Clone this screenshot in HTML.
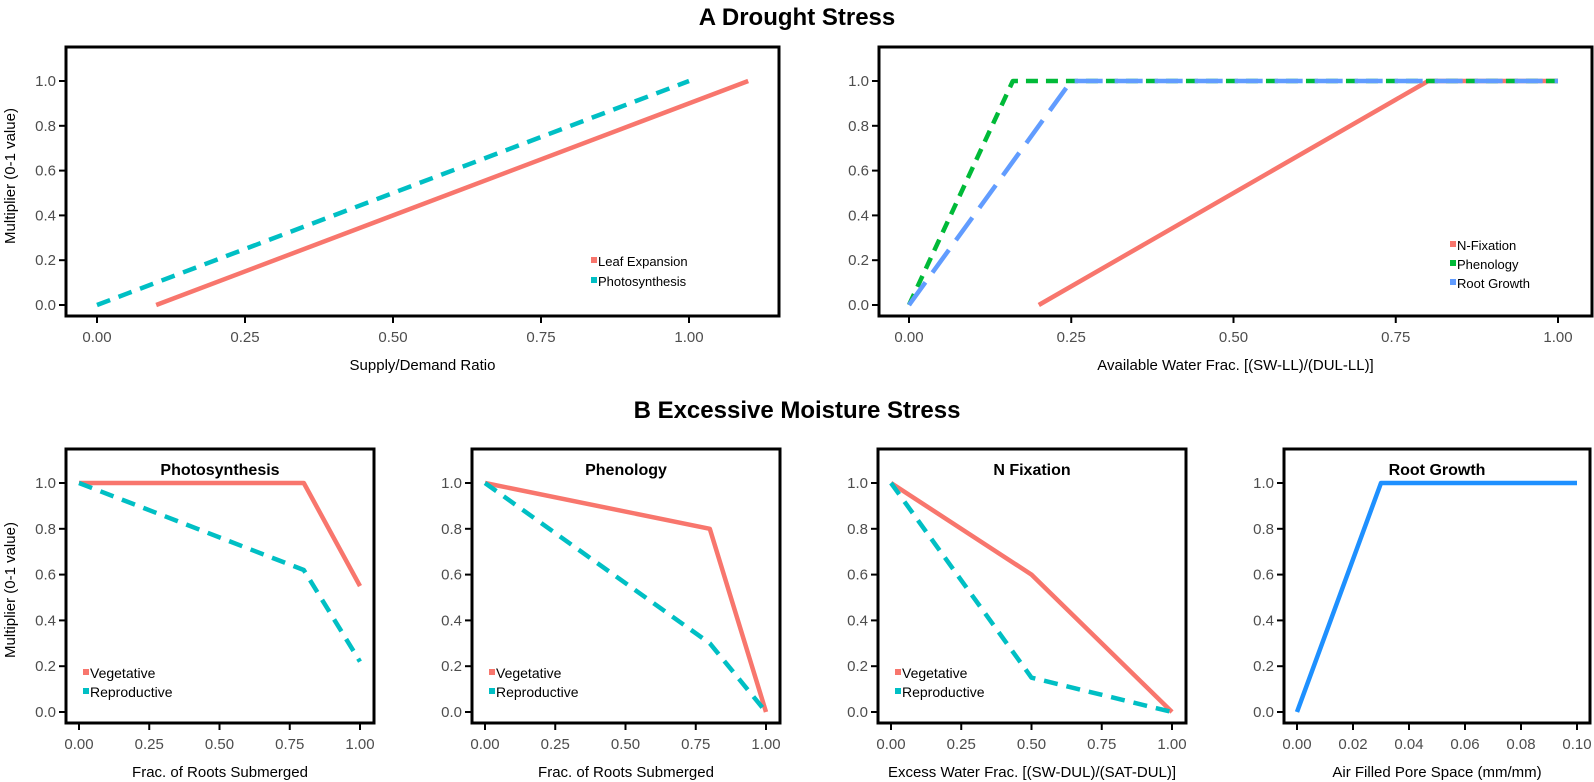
<!DOCTYPE html>
<html><head><meta charset="utf-8"><style>
html,body{margin:0;padding:0;background:#fff;}
svg{display:block;font-family:"Liberation Sans",Arial,sans-serif;}
</style></head><body>
<svg id="s" width="1594" height="782" viewBox="0 0 1594 782" xmlns="http://www.w3.org/2000/svg">
<text x="797" y="25" text-anchor="middle" font-size="24" font-weight="bold">A  Drought Stress</text>
<text x="797" y="418" text-anchor="middle" font-size="24" font-weight="bold">B  Excessive Moisture Stress</text>
<text transform="translate(15,176) rotate(-90)" text-anchor="middle" font-size="15">Multiplier (0-1 value)</text>
<text transform="translate(15,590) rotate(-90)" text-anchor="middle" font-size="15">Multiplier (0-1 value)</text>
</svg>
<script>
var s=document.getElementById('s'),NS='http://www.w3.org/2000/svg';
function el(t,a,txt){var e=document.createElementNS(NS,t);for(var k in a)e.setAttribute(k,a[k]);if(txt!=null)e.textContent=txt;s.appendChild(e);return e;}
var R='#F8766D',T='#00BFC4',G='#00BA38',B='#619CFF',B2='#1E90FF';
function panel(p){
 var X=function(v){return p.x0+(v-p.xmin)/(p.xmax-p.xmin)*(p.x1-p.x0)};
 var Y=function(v){return p.y0+p.dy*v};
 p.series.forEach(function(sr){
  el('polyline',{points:sr.pts.map(function(q){return X(q[0])+','+Y(q[1])}).join(' '),fill:'none',stroke:sr.c,'stroke-width':4.5,'stroke-dasharray':sr.d||'none','stroke-linejoin':'round'});
 });
 el('rect',{x:p.bx0,y:p.by0,width:p.bx1-p.bx0,height:p.by1-p.by0,fill:'none',stroke:'#000','stroke-width':3});
 [0,0.2,0.4,0.6,0.8,1.0].forEach(function(v){var y=Y(v);
  el('line',{x1:p.bx0-7,x2:p.bx0,y1:y,y2:y,stroke:'#000','stroke-width':2});
  el('text',{x:p.bx0-10,y:y+5,'text-anchor':'end','font-size':15,fill:'#4d4d4d'},v.toFixed(1));});
 p.xt.forEach(function(v){var x=X(v);
  el('line',{x1:x,x2:x,y1:p.by1,y2:p.by1+7,stroke:'#000','stroke-width':2});
  el('text',{x:x,y:p.by1+26,'text-anchor':'middle','font-size':15,fill:'#4d4d4d'},v.toFixed(2));});
 el('text',{x:(p.bx0+p.bx1)/2,y:p.by1+54,'text-anchor':'middle','font-size':15},p.xl);
 if(p.title)el('text',{x:(p.bx0+p.bx1)/2,y:p.by0+26,'text-anchor':'middle','font-size':16,'font-weight':'bold'},p.title);
 if(p.leg)p.leg.items.forEach(function(it,i){var y=p.leg.y+i*p.leg.dy;
  el('rect',{x:p.leg.x,y:y-10,width:6,height:6,fill:it[1]});
  el('text',{x:p.leg.x+7,y:y-1,'font-size':p.leg.fs||13},it[0]);});
}
var q=[0,0.25,0.5,0.75,1];
panel({bx0:66,bx1:779,by0:47,by1:316,x0:97,x1:689,xmin:0,xmax:1,y0:305,dy:81-305,xt:q,xl:'Supply/Demand Ratio',
 series:[{c:R,pts:[[0.1,0],[1.1,1]]},{c:T,d:'14 9',pts:[[0,0],[1,1]]}],
 leg:{x:591,y:267,dy:20,items:[['Leaf Expansion',R],['Photosynthesis',T]]}});
panel({bx0:879,bx1:1592,by0:47,by1:316,x0:909,x1:1558,xmin:0,xmax:1,y0:305,dy:81-305,xt:q,xl:'Available Water Frac. [(SW-LL)/(DUL-LL)]',
 series:[{c:R,pts:[[0.2,0],[0.8,1],[1,1]]},{c:G,d:'12 8',pts:[[0,0],[0.16,1],[1,1]]},{c:B,d:'28 12',pts:[[0,0],[0.25,1],[1,1]]}],
 leg:{x:1450,y:251,dy:19,items:[['N-Fixation',R],['Phenology',G],['Root Growth',B]]}});
var bl=function(x){return {x:x+17,y:679,dy:19,fs:14,items:[['Vegetative',R],['Reproductive',T]]}};
var bp=[
 {t:'Photosynthesis',xl:'Frac. of Roots Submerged',s:[{c:R,pts:[[0,1],[0.8,1],[1,0.55]]},{c:T,d:'14 9',pts:[[0,1],[0.8,0.62],[1,0.22]]}]},
 {t:'Phenology',xl:'Frac. of Roots Submerged',s:[{c:R,pts:[[0,1],[0.8,0.8],[1,0]]},{c:T,d:'14 9',pts:[[0,1],[0.8,0.3],[1,0]]}]},
 {t:'N Fixation',xl:'Excess Water Frac. [(SW-DUL)/(SAT-DUL)]',s:[{c:R,pts:[[0,1],[0.5,0.6],[1,0]]},{c:T,d:'14 9',pts:[[0,1],[0.5,0.15],[1,0]]}]}
];
bp.forEach(function(b,i){var bx=66+i*406;
 panel({bx0:bx,bx1:bx+308,by0:449,by1:723,x0:bx+13,x1:bx+294,xmin:0,xmax:1,y0:712,dy:483-712,xt:q,xl:b.xl,title:b.t,series:b.s,leg:bl(bx)});});
panel({bx0:1284,bx1:1590,by0:449,by1:723,x0:1297,x1:1577,xmin:0,xmax:0.1,y0:712,dy:483-712,xt:[0,0.02,0.04,0.06,0.08,0.1],xl:'Air Filled Pore Space (mm/mm)',title:'Root Growth',
 series:[{c:B2,pts:[[0,0],[0.03,1],[0.1,1]]}]});
</script>
</body></html>
